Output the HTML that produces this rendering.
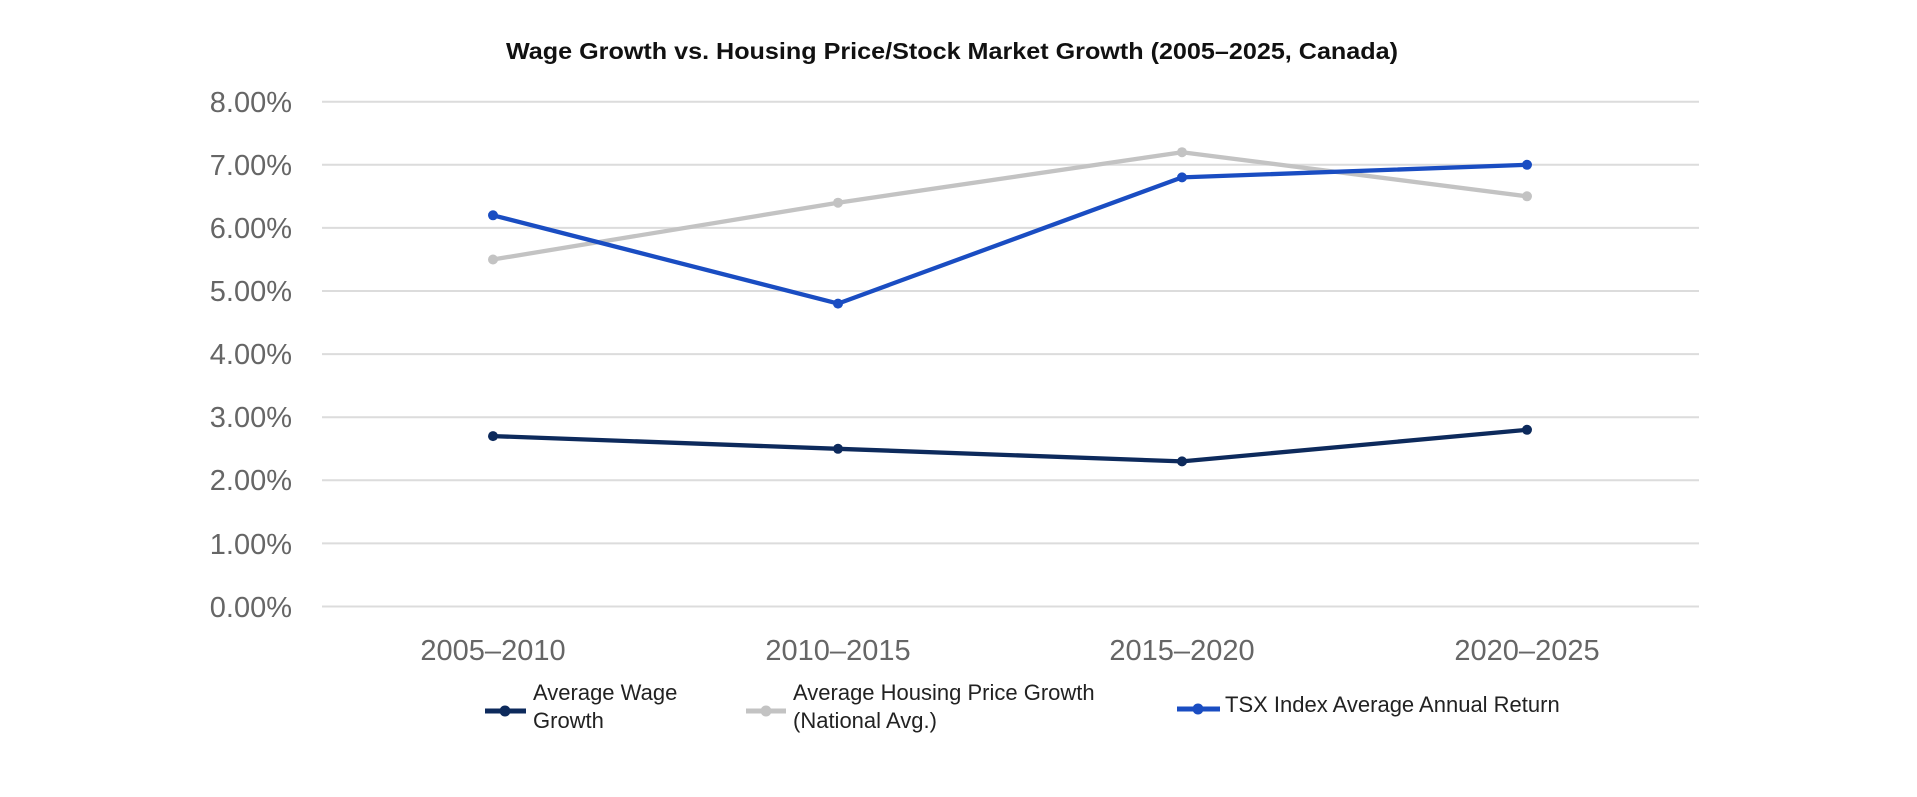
<!DOCTYPE html>
<html><head><meta charset="utf-8"><style>
html,body{margin:0;padding:0;background:#fff;}
svg{display:block;}
</style></head><body>
<svg width="1917" height="797" viewBox="0 0 1917 797" xmlns="http://www.w3.org/2000/svg" font-family="Liberation Sans, sans-serif">
<rect width="1917" height="797" fill="#fff"/>
<text x="952" y="59" text-anchor="middle" font-size="23" font-weight="bold" fill="#111" textLength="892" lengthAdjust="spacingAndGlyphs">Wage Growth vs. Housing Price/Stock Market Growth (2005–2025, Canada)</text>
<g stroke="#dcdcdc" stroke-width="2">
<line x1="322" x2="1699" y1="101.7" y2="101.7"/>
<line x1="322" x2="1699" y1="164.8" y2="164.8"/>
<line x1="322" x2="1699" y1="227.9" y2="227.9"/>
<line x1="322" x2="1699" y1="291" y2="291"/>
<line x1="322" x2="1699" y1="354.1" y2="354.1"/>
<line x1="322" x2="1699" y1="417.2" y2="417.2"/>
<line x1="322" x2="1699" y1="480.3" y2="480.3"/>
<line x1="322" x2="1699" y1="543.4" y2="543.4"/>
<line x1="322" x2="1699" y1="606.5" y2="606.5"/>
</g>
<g font-size="29" fill="#666" text-anchor="end">
<text x="292" y="112">8.00%</text>
<text x="292" y="175">7.00%</text>
<text x="292" y="238">6.00%</text>
<text x="292" y="301">5.00%</text>
<text x="292" y="364">4.00%</text>
<text x="292" y="427">3.00%</text>
<text x="292" y="490">2.00%</text>
<text x="292" y="554">1.00%</text>
<text x="292" y="617">0.00%</text>
</g>
<g font-size="29" fill="#666" text-anchor="middle">
<text x="493" y="660">2005–2010</text>
<text x="838" y="660">2010–2015</text>
<text x="1182" y="660">2015–2020</text>
<text x="1527" y="660">2020–2025</text>
</g>
<g fill="none" stroke-width="4.3" stroke-linejoin="round">
<polyline stroke="#c3c3c3" points="493,259.5 838,202.7 1182,152.2 1527,196.3"/>
<polyline stroke="#1a4dc2" points="493,215.3 838,303.6 1182,177.4 1527,164.8"/>
<polyline stroke="#0d2a5c" points="493,436.1 838,448.8 1182,461.4 1527,429.8"/>
</g>
<g fill="#c3c3c3"><circle cx="493" cy="259.5" r="5"/><circle cx="838" cy="202.7" r="5"/><circle cx="1182" cy="152.2" r="5"/><circle cx="1527" cy="196.3" r="5"/></g>
<g fill="#1a4dc2"><circle cx="493" cy="215.3" r="5"/><circle cx="838" cy="303.6" r="5"/><circle cx="1182" cy="177.4" r="5"/><circle cx="1527" cy="164.8" r="5"/></g>
<g fill="#0d2a5c"><circle cx="493" cy="436.1" r="5"/><circle cx="838" cy="448.8" r="5"/><circle cx="1182" cy="461.4" r="5"/><circle cx="1527" cy="429.8" r="5"/></g>
<g font-size="22" fill="#222">
<line x1="485" x2="526" y1="711" y2="711" stroke="#0d2a5c" stroke-width="5"/><circle cx="505" cy="711" r="5.5" fill="#0d2a5c"/>
<text x="533" y="700">Average Wage</text><text x="533" y="728">Growth</text>
<line x1="746" x2="786" y1="711" y2="711" stroke="#c3c3c3" stroke-width="5"/><circle cx="766" cy="711" r="5.5" fill="#c3c3c3"/>
<text x="793" y="700">Average Housing Price Growth</text><text x="793" y="728">(National Avg.)</text>
<line x1="1177" x2="1220" y1="709" y2="709" stroke="#1a4dc2" stroke-width="5"/><circle cx="1198" cy="709" r="5.5" fill="#1a4dc2"/>
<text x="1225" y="712">TSX Index Average Annual Return</text>
</g>
</svg>
</body></html>
